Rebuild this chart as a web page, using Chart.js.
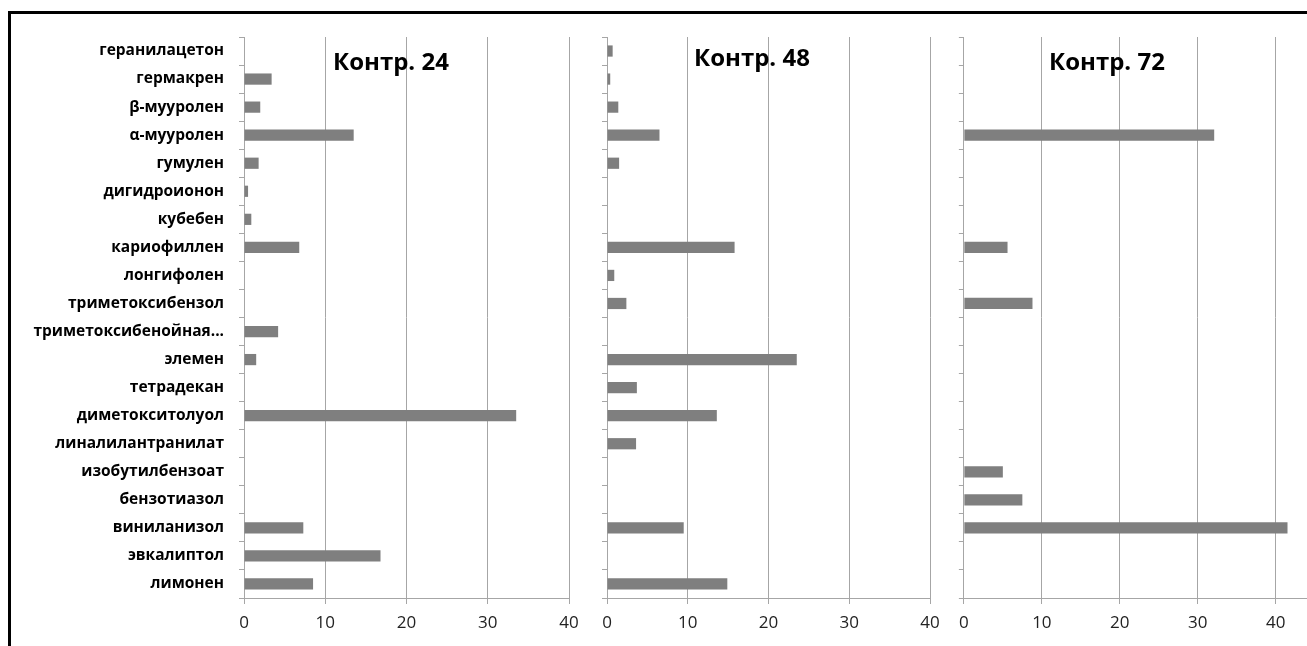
<!DOCTYPE html>
<html>
<head>
<meta charset="utf-8">
<script src="https://cdn.jsdelivr.net/npm/chart.js@4.4.0/dist/chart.umd.min.js"></script>
<style>
html, body { margin: 0; padding: 0; background: #fff; overflow: hidden; }
body { width: 1307px; height: 646px; position: relative; font-family: "Open Sans", sans-serif; }
.frame { position: absolute; left: 8px; top: 11px; width: 1400px; height: 700px; border: 3px solid #000; box-sizing: border-box; }
.panel { position: absolute; top: 0; height: 646px; }
.title { position: absolute; font-weight: bold; font-size: 24px; line-height: 1; color: #000; white-space: nowrap; }
</style>
</head>
<body>
<div class="frame"></div>
<div class="panel" style="left:0;width:590px"><canvas id="c24"></canvas></div>
<div class="panel" style="left:590px;width:360px"><canvas id="c48"></canvas></div>
<div class="panel" style="left:950px;width:357px"><canvas id="c72"></canvas></div>
<div class="title" style="left:333px;top:49px">Контр. 24</div>
<div class="title" style="left:694px;top:45px">Контр. 48</div>
<div class="title" style="left:1049px;top:49px">Контр. 72</div>
<script>
// compounds, top to bottom
const compounds = [
    'геранилацетон', 'гермакрен', 'β-мууролен', 'α-мууролен', 'гумулен',
    'дигидроионон', 'кубебен', 'кариофиллен', 'лонгифолен', 'триметоксибензол',
    'триметоксибенойная...', 'элемен', 'тетрадекан', 'диметокситолуол', 'линалилантранилат',
    'изобутилбензоат', 'бензотиазол', 'виниланизол', 'эвкалиптол', 'лимонен'
];

const k24 = [0, 3.4, 2.0, 13.5, 1.8, 0.5, 0.9, 6.8, 0, 0, 4.2, 1.5, 0, 33.5, 0, 0, 0, 7.3, 16.8, 8.5];
const k48 = [0.7, 0.4, 1.4, 6.5, 1.5, 0, 0, 15.8, 0.9, 2.4, 0, 23.5, 3.7, 13.6, 3.6, 0, 0, 9.5, 0, 14.9];
const k72 = [0, 0, 0, 32.1, 0, 0, 0, 5.6, 0, 8.8, 0, 0, 0, 0, 0, 5.0, 7.5, 41.5, 0, 0];

const xTicks = [0, 10, 20, 30, 40];

const GRID = '#a6a6a6';
const BAR = '#7f7f7f';

function makePanel(canvasId, values, opts) {
    return new Chart(document.getElementById(canvasId).getContext('2d'), {
        type: 'bar',
        data: {
            labels: compounds,
            datasets: [{
                data: values,
                backgroundColor: BAR,
                borderWidth: 0,
                categoryPercentage: 1.0,
                barPercentage: 0.4
            }]
        },
        options: {
            indexAxis: 'y',
            responsive: true,
            maintainAspectRatio: false,
            animation: false,
            layout: { padding: { top: 37, right: opts.padRight, left: 0, bottom: 0 } },
            plugins: { legend: { display: false }, tooltip: { enabled: false } },
            scales: {
                x: {
                    min: 0,
                    max: opts.max,
                    afterBuildTicks: axis => { axis.ticks = xTicks.map(v => ({ value: v })); },
                    afterFit: axis => { axis.height = 48; },
                    grid: { color: GRID, tickLength: 6, drawTicks: true },
                    border: { color: GRID },
                    ticks: {
                        padding: 9,
                        color: '#222',
                        font: { family: 'Open Sans', size: 17 }
                    }
                },
                y: {
                    afterFit: axis => { axis.width = opts.yWidth; },
                    grid: { display: true, drawOnChartArea: false, color: GRID, tickLength: 5, offset: true },
                    border: { color: GRID },
                    ticks: {
                        display: opts.showLabels,
                        padding: 15,
                        color: '#000',
                        autoSkip: false,
                        font: { family: 'Open Sans', size: 15.5, weight: 'bold' }
                    }
                }
            }
        }
    });
}

makePanel('c24', k24, { max: 40, padRight: 21, yWidth: 244, showLabels: true });
makePanel('c48', k48, { max: 40, padRight: 20, yWidth: 17, showLabels: false });
makePanel('c72', k72, { max: 44, padRight: 0, yWidth: 13, showLabels: false });
</script>
</body>
</html>
